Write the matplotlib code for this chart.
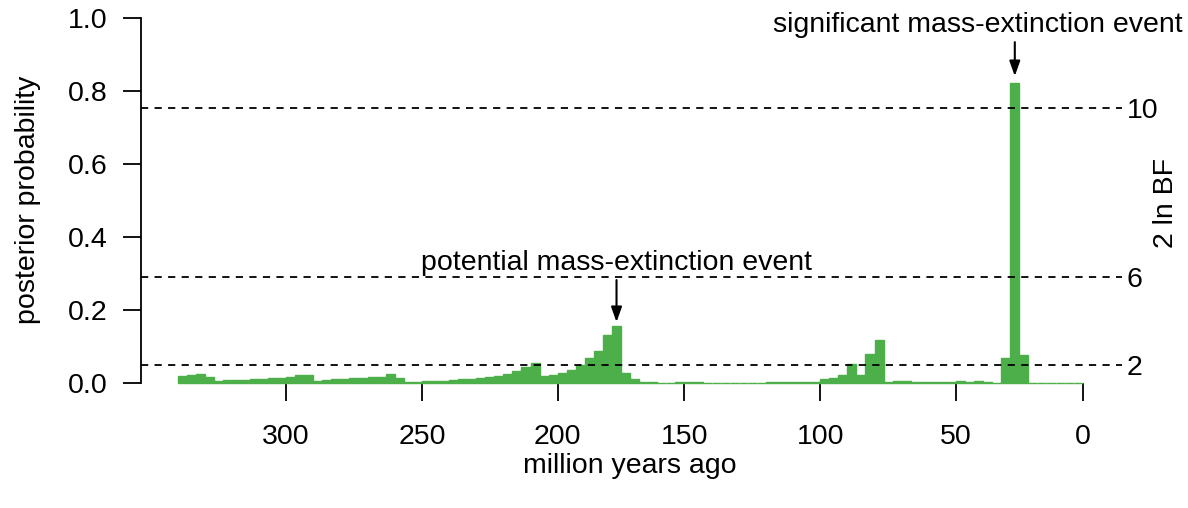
import numpy as np
import matplotlib
matplotlib.use('Agg')
import matplotlib.pyplot as plt

plt.rcParams['font.family'] = ['Liberation Sans', 'DejaVu Sans']

# posterior probability of a mass extinction per time bin, oldest -> youngest (100 bins)
posterior = [0.021, 0.022, 0.025, 0.019, 0.008, 0.009, 0.0095, 0.0105, 0.012, 0.013,
             0.014, 0.016, 0.018, 0.022, 0.023, 0.008, 0.0095, 0.011, 0.012, 0.014,
             0.016, 0.018, 0.019, 0.027, 0.014, 0.004, 0.005, 0.006, 0.007, 0.008,
             0.0095, 0.011, 0.013, 0.015, 0.018, 0.021, 0.026, 0.035, 0.044, 0.055,
             0.021, 0.022, 0.030, 0.037, 0.051, 0.069, 0.090, 0.132, 0.156, 0.029,
             0.013, 0.004, 0.003, 0.002, 0.002, 0.004, 0.004, 0.003, 0.001, 0.001,
             0.001, 0.001, 0.001, 0.001, 0.001, 0.003, 0.003, 0.003, 0.003, 0.003,
             0.004, 0.012, 0.016, 0.023, 0.052, 0.023, 0.081, 0.118, 0.004, 0.008,
             0.006, 0.003, 0.004, 0.003, 0.003, 0.003, 0.006, 0.004, 0.008, 0.005,
             0.001, 0.069, 0.821, 0.077, 0.0015, 0.0015, 0.0015, 0.0015, 0.0015, 0.0015]

# x axis ticks sit on bin boundaries
xtick_bins = [12, 27, 42, 56, 71, 86, 100]
xtick_labels = ['300', '250', '200', '150', '100', '50', '0']

# 2 ln BF thresholds expressed as posterior probability
bf_probs = [0.0506, 0.29, 0.754]
bf_labels = ['2', '6', '10']

# annotated events: bin index, label, label position (bin, prob), arrow tail/head prob
event_bins = [48, 92]
event_labels = ['potential mass-extinction event', 'significant mass-extinction event']
event_text_x = [48.5, 88.4]
event_text_y = [0.33, 0.981]
arrow_tail = [0.283, 0.934]
arrow_head = [0.168, 0.841]

green = '#4DAF4A'
fs = 20.5

fig = plt.figure(figsize=(11.88, 5.08), dpi=100)
ax = fig.add_axes([141.3/1188, 1-398.1/508, (1118.9-141.3)/1188, (398.1-3.4)/508])

x = np.arange(len(posterior)) + 0.5
ax.bar(x, posterior, width=1.0, color=green, edgecolor=green, linewidth=1.0, zorder=2)

for p in bf_probs:
    ax.axhline(p, color='black', lw=1.3, ls=(0, (4, 3.5)), zorder=3)

ax.set_xlim(-4, 104)
ax.set_ylim(-0.04, 1.04)

for s in ['top', 'right']:
    ax.spines[s].set_visible(False)
ax.spines['left'].set_bounds(0, 1)
ax.spines['left'].set_linewidth(1.3)
# the axis line itself is hidden under the bars, only the ticks show
ax.spines['bottom'].set_position(('data', 0))
ax.spines['bottom'].set_visible(False)

ax.set_yticks([0, 0.2, 0.4, 0.6, 0.8, 1.0])
ax.set_yticklabels(['0.0', '0.2', '0.4', '0.6', '0.8', '1.0'])
ax.set_xticks(xtick_bins)
ax.set_xticklabels(xtick_labels)
ax.tick_params(axis='y', length=13, width=1.3, pad=11, labelsize=fs)
ax.tick_params(axis='x', length=13, width=1.3, pad=16, labelsize=fs)

ax2 = ax.twinx()
ax2.set_ylim(ax.get_ylim())
ax2.set_yticks(bf_probs)
ax2.set_yticklabels(bf_labels)
for s in ax2.spines.values():
    s.set_visible(False)
ax2.tick_params(axis='y', length=2.5, width=1.3, pad=3, labelsize=fs)

for b, lab, tx, ty, t0, t1 in zip(event_bins, event_labels, event_text_x, event_text_y,
                                   arrow_tail, arrow_head):
    ax.text(tx, ty, lab, ha='center', va='center', fontsize=fs, zorder=5)
    ax.annotate('', xy=(b + 0.5, t1), xytext=(b + 0.5, t0),
                arrowprops=dict(arrowstyle='-|>,head_length=0.45,head_width=0.16',
                                color='black', lw=1.5, shrinkA=0, shrinkB=0,
                                mutation_scale=20), zorder=5)

fig.text(28/1188, 1-200/508, 'posterior probability', rotation=90, ha='center',
         va='center', fontsize=fs)
fig.text(630/1188, 1-466/508, 'million years ago', ha='center', va='center', fontsize=fs)
fig.text(1166/1188, 1-203/508, '2 ln BF', rotation=90, ha='center', va='center',
         fontsize=fs)

fig.savefig('out.png', dpi=100)
